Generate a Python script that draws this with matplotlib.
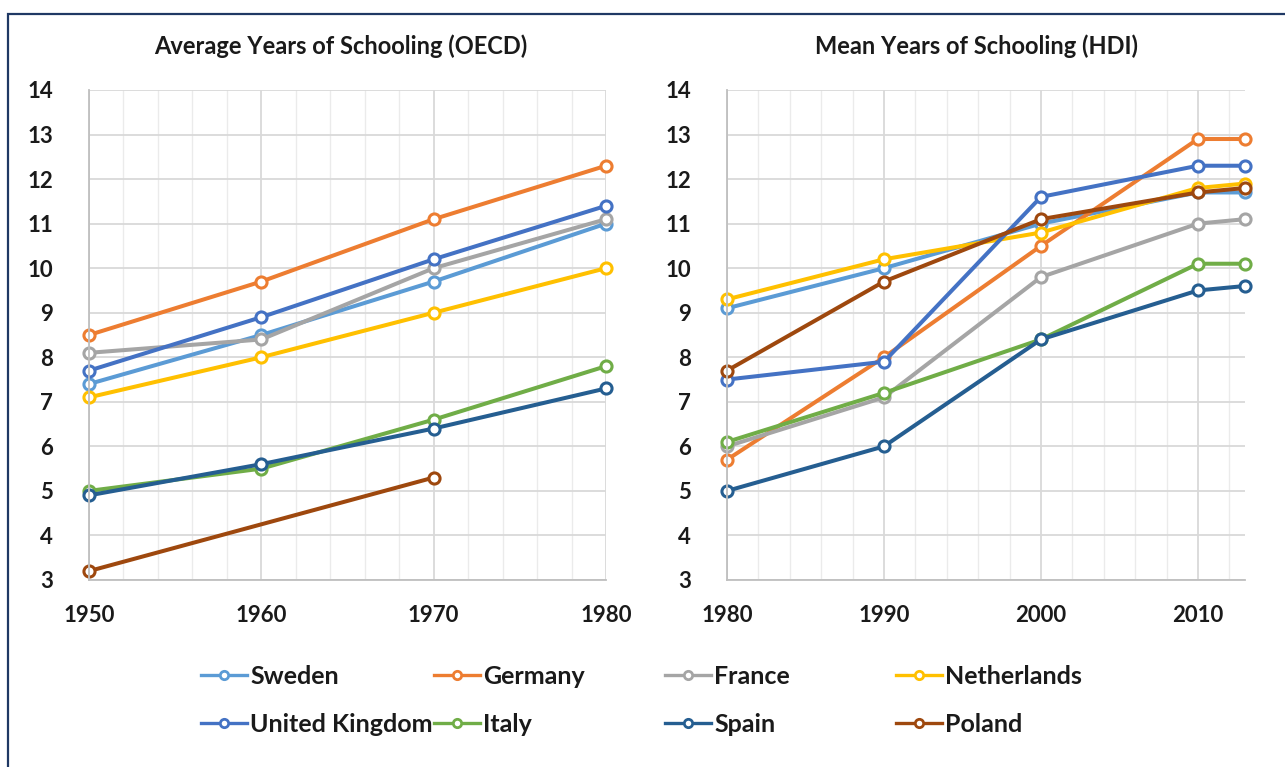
import matplotlib
matplotlib.use("Agg")
import matplotlib.pyplot as plt
from matplotlib.lines import Line2D
from matplotlib.patches import Rectangle
import numpy as np

plt.rcParams['font.family'] = ['Lato', 'DejaVu Sans']

countries = ["Sweden", "Germany", "France", "Netherlands",
             "United Kingdom", "Italy", "Spain", "Poland"]
colors = ["#5B9BD5", "#ED7D31", "#A5A5A5", "#FFC000",
          "#4472C4", "#70AD47", "#255E91", "#9E480E"]

# OECD: average years of schooling
oecd_years = [1950, 1960, 1970, 1980]
oecd_sweden = [7.4, 8.5, 9.7, 11.0]
oecd_germany = [8.5, 9.7, 11.1, 12.3]
oecd_france = [8.1, 8.4, 10.0, 11.1]
oecd_netherlands = [7.1, 8.0, 9.0, 10.0]
oecd_uk = [7.7, 8.9, 10.2, 11.4]
oecd_italy = [5.0, 5.5, 6.6, 7.8]
oecd_spain = [4.9, 5.6, 6.4, 7.3]
oecd_poland = [3.2, None, 5.3, None]

# HDI: mean years of schooling
hdi_years = [1980, 1990, 2000, 2010, 2013]
hdi_sweden = [9.1, 10.0, 11.0, 11.7, 11.7]
hdi_germany = [5.7, 8.0, 10.5, 12.9, 12.9]
hdi_france = [6.0, 7.1, 9.8, 11.0, 11.1]
hdi_netherlands = [9.3, 10.2, 10.8, 11.8, 11.9]
hdi_uk = [7.5, 7.9, 11.6, 12.3, 12.3]
hdi_italy = [6.1, 7.2, 8.4, 10.1, 10.1]
hdi_spain = [5.0, 6.0, 8.4, 9.5, 9.6]
hdi_poland = [7.7, 9.7, 11.1, 11.7, 11.8]

oecd_series = [oecd_sweden, oecd_germany, oecd_france, oecd_netherlands,
               oecd_uk, oecd_italy, oecd_spain, oecd_poland]
hdi_series = [hdi_sweden, hdi_germany, hdi_france, hdi_netherlands,
              hdi_uk, hdi_italy, hdi_spain, hdi_poland]

W, H = 1285, 767
fig = plt.figure(figsize=(W / 100, H / 100), dpi=100)
fig.patch.set_facecolor("white")

# outer border (top and left edges visible)
fig.patches.append(Rectangle((8 / W, -0.2), 1.5, 1.2 - 14 / H,
                             transform=fig.transFigure, fill=False,
                             edgecolor="#1F3864", linewidth=1.6))

text_color = "#1a1a1a"


def style_axes(ax, xlim, xmajor, title, title_x):
    ax.set_xlim(*xlim)
    ax.set_ylim(3, 14)
    ax.set_yticks(range(3, 15))
    ax.set_xticks(xmajor)
    ax.set_xticks(np.arange(xlim[0], xlim[1] + 0.01, 2), minor=True)
    ax.grid(True, which="major", color="#D9D9D9", linewidth=1.3)
    ax.grid(True, which="minor", axis="x", color="#EBEBEB", linewidth=1.0)
    ax.set_axisbelow(True)
    for s in ["top", "right"]:
        ax.spines[s].set_visible(False)
    for s in ["left", "bottom"]:
        ax.spines[s].set_color("#BFBFBF")
        ax.spines[s].set_linewidth(1.3)
    ax.tick_params(which="both", length=0)
    ax.tick_params(axis="y", pad=26, labelsize=16, labelcolor=text_color)
    ax.tick_params(axis="x", pad=18, labelsize=16, labelcolor=text_color)
    for lab in ax.get_xticklabels() + ax.get_yticklabels():
        lab.set_fontweight("bold")
    ax.set_title(title, fontsize=17, fontweight="bold", color=text_color,
                 pad=26, x=title_x)


ax1 = fig.add_axes([89 / W, 1 - 580 / H, (606 - 89) / W, (580 - 90) / H])
ax2 = fig.add_axes([727 / W, 1 - 580 / H, (1245 - 727) / W, (580 - 90) / H])

style_axes(ax1, (1950, 1980), oecd_years, "Average Years of Schooling (OECD)", 0.487)
style_axes(ax2, (1980, 2013), [1980, 1990, 2000, 2010], "Mean Years of Schooling (HDI)", 0.481)

mk = dict(marker="o", markersize=8, markerfacecolor="white", markeredgewidth=2.2,
          linewidth=2.9, clip_on=False)

handles = []
for name, col, ys in zip(countries, colors, oecd_series):
    xs = [x for x, y in zip(oecd_years, ys) if y is not None]
    yv = [y for y in ys if y is not None]
    ax1.plot(xs, yv, color=col, markeredgecolor=col, **mk)
for name, col, ys in zip(countries, colors, hdi_series):
    ax2.plot(hdi_years, ys, color=col, markeredgecolor=col, **mk)
    handles.append(Line2D([], [], color=col, marker="o", markersize=6,
                          markerfacecolor="white", markeredgecolor=col,
                          markeredgewidth=2.0, linewidth=2.4))

# legend: 4 fixed columns, 2 rows
col_x = [201, 434, 665, 896]
for c in range(4):
    idx = [c, c + 4]
    fig.legend([handles[i] for i in idx], [countries[i] for i in idx],
               loc="upper left", bbox_to_anchor=(col_x[c] / W, 1 - 665 / H),
               frameon=False, ncol=1, handlelength=1.84, handletextpad=0.12,
               borderpad=0, borderaxespad=0, labelspacing=1.0,
               prop={"size": 18, "weight": "bold"}, labelcolor=text_color)

fig.savefig("out.png", dpi=100, facecolor="white")
